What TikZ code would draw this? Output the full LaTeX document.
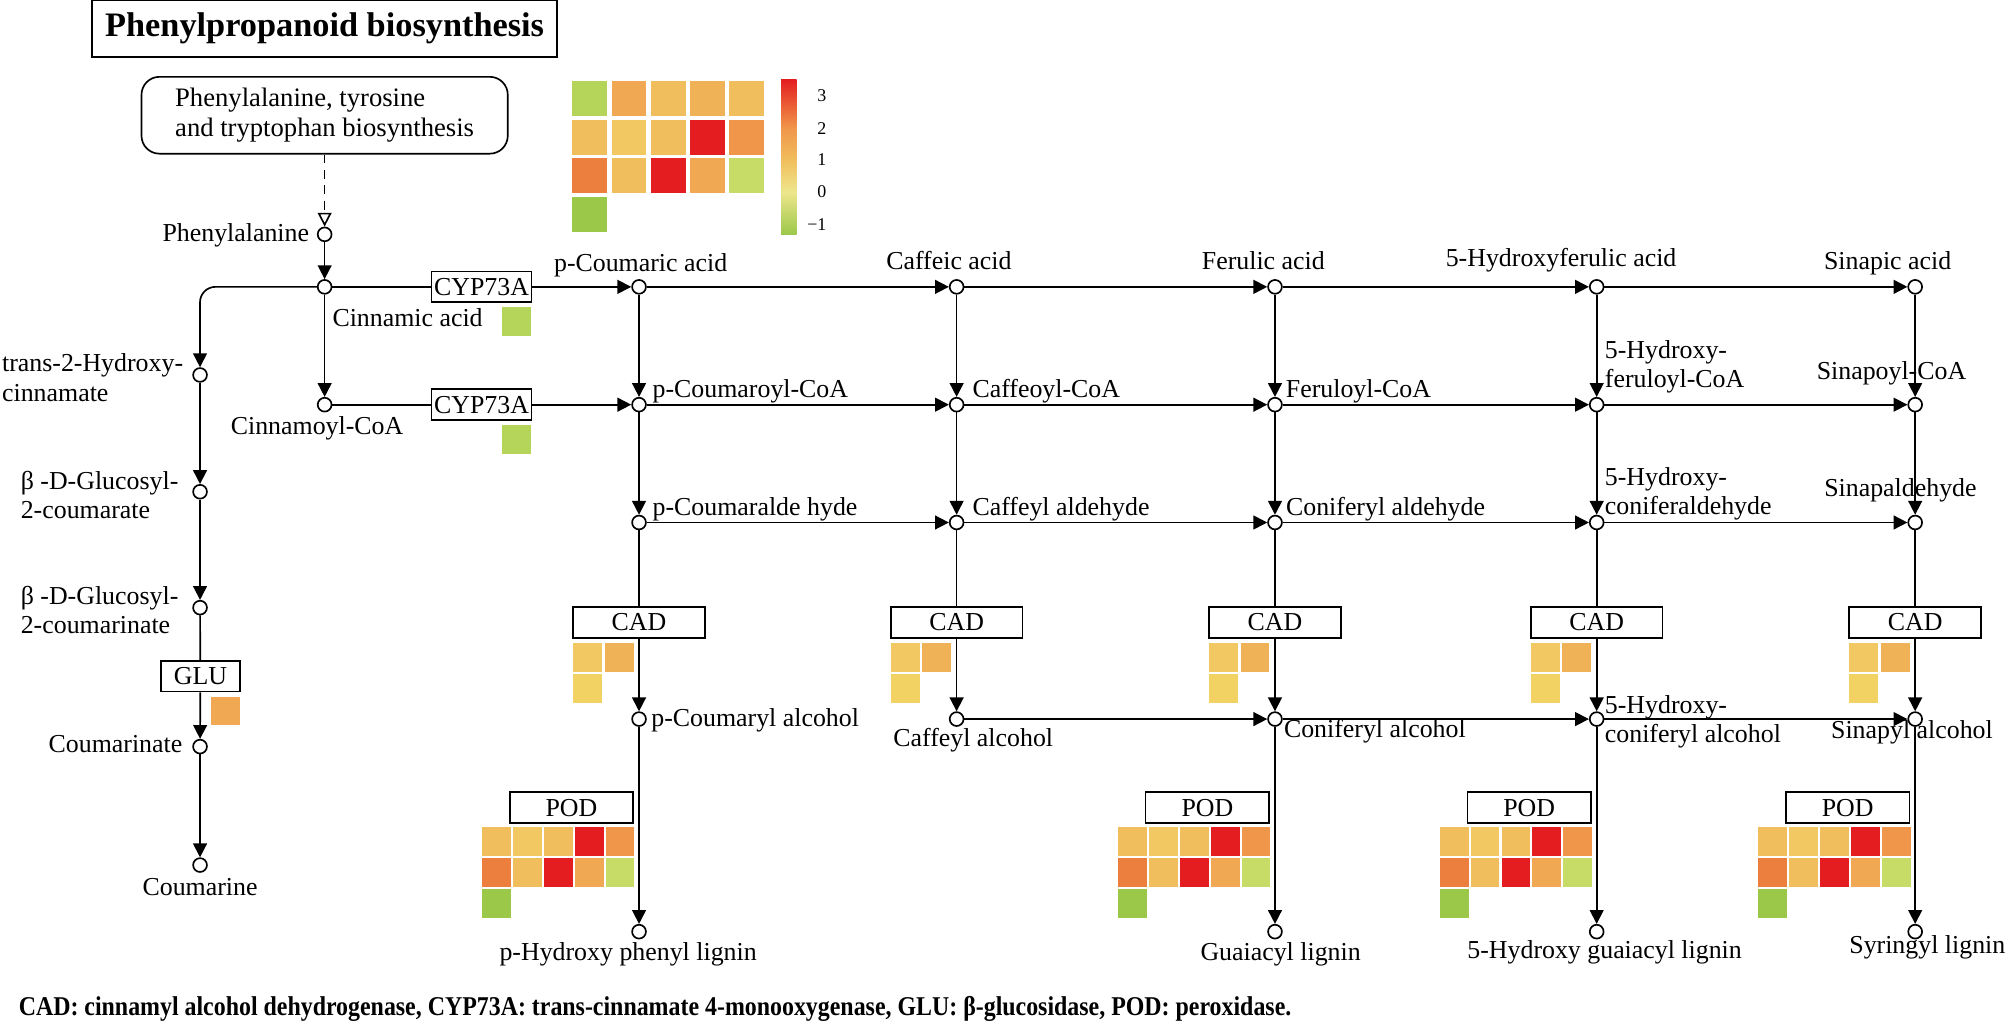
\documentclass[tikz,border=0pt]{standalone}
\usepackage{fontspec}
\setmainfont{Liberation Serif}
\usetikzlibrary{arrows.meta}
\definecolor{hmR}{HTML}{E41E20}
\definecolor{hmOa}{HTML}{EC7E3E}
\definecolor{hmOb}{HTML}{F0964A}
\definecolor{hmOc}{HTML}{F0A852}
\definecolor{hmOd}{HTML}{F0B256}
\definecolor{hmYa}{HTML}{F0BE5C}
\definecolor{hmYb}{HTML}{F2C862}
\definecolor{hmYc}{HTML}{F2D263}
\definecolor{hmYd}{HTML}{EEE68C}
\definecolor{hmGa}{HTML}{C6DC66}
\definecolor{hmGb}{HTML}{B5D45A}
\definecolor{hmGc}{HTML}{9CC84A}

\begin{document}
\begin{tikzpicture}[x=0.5pt,y=-0.5pt,line width=0.65pt,
                    every node/.append style={font=\fontsize{10.1}{11.5}\selectfont},
                    met/.style={circle,draw,fill=white,minimum size=5.4pt,inner sep=0pt},
                    enz/.style={draw,minimum height=12pt,inner sep=0pt},
                    lbl/.style={inner sep=0pt,text height=6.8pt,text depth=1.6pt},
                    lbltwo/.style={inner sep=0pt,align=left,anchor=west},
                    arr/.style={-{Triangle[length=5.4pt,width=5.4pt]}}
]
\useasboundingbox (0,0) rectangle (1568,803.5);

\node[draw,minimum width=181.5pt,minimum height=21.9pt,font=\fontsize{13.4}{15}\selectfont\bfseries] (title) at (253.5,22.4) {Phenylpropanoid biosynthesis};
\node[draw,rounded corners=7pt,minimum width=143pt,minimum height=30pt,align=left,font=\fontsize{10.4}{11.7}\selectfont] (aab) at (253.5,90) {Phenylalanine, tyrosine\\and tryptophan biosynthesis};

% legend heatmap and colour bar
\foreach \row [count=\j from 0] in {{hmGb,hmOc,hmYa,hmOd,hmYa},{hmYa,hmYb,hmYa,hmR,hmOb},{hmOa,hmYa,hmR,hmOc,hmGa},{hmGc}}
  \foreach \col [count=\i from 0] in \row
    \fill[\col] (447+30.5*\i,63.3+30.1*\j) rectangle ++(27.3,27.3);
\shade[top color=hmR,bottom color=hmOb] (610,62) rectangle (622,100);
\shade[top color=hmOb,bottom color=hmYa] (610,100) rectangle (622,125);
\shade[top color=hmYa,bottom color=hmYd] (610,125) rectangle (622,150);
\shade[top color=hmYd,bottom color=hmGc] (610,150) rectangle (622,183);
\foreach \v/\y in {3/75,2/100,1/125,0/150,−1/175}
  \node[anchor=east,inner sep=0pt,font=\fontsize{7}{8}\selectfont] (bar\y) at (646,\y) {\v};

% entry and left branch
\node[met] (phe) at (253.5,183) {};
\node[met] (cin) at (253.5,224) {};
\node[met] (cincoa) at (253.5,316) {};
\node[enz,minimum width=39pt] (cyp1) at (376,224) {CYP73A};
\node[enz,minimum width=39pt] (cyp2) at (376,316) {CYP73A};
\fill[hmGb] (392,239.5) rectangle (415,262);
\fill[hmGb] (392,332) rectangle (415,354.5);
\node[lbl,anchor=east] (pheT) at (242,183) {Phenylalanine};
\node[lbl,anchor=west] (cinT) at (259,249.4) {Cinnamic acid};
\node[lbl] (cincoaT) at (247.6,334.4) {Cinnamoyl-CoA};
%
\node[met] (t2h) at (156.2,292.8) {};
\node[met] (glca) at (156.2,384) {};
\node[met] (glcb) at (156.2,474.5) {};
\node[enz,minimum width=31pt] (glu) at (156.5,528) {GLU};
\fill[hmOc] (164.5,544) rectangle (187.4,566);
\node[met] (coum) at (156.2,583) {};
\node[met] (coumarine) at (156.2,675.5) {};
\node[lbltwo] (t2hT) at (1,295) {trans-2-Hydroxy-\\cinnamate};
\node[lbltwo] (glcaT) at (15.6,386.4) {β -D-Glucosyl-\\2-coumarate};
\node[lbltwo] (glcbT) at (15.6,476.4) {β -D-Glucosyl-\\2-coumarinate};
\node[lbl,anchor=east] (coumT) at (143,582.5) {Coumarinate};
\node[lbl] (coumarineT) at (156.2,693.7) {Coumarine};

% grid of metabolites
\node[met] (pcou) at (499,224) {};
\node[met] (pcoucoa) at (499,316) {};
\node[met] (pcoual) at (499,408) {};
\node[met] (pcouol) at (499,561.5) {};
\node[met] (hlig) at (499,727.5) {};
\node[met] (caf) at (747,224) {};
\node[met] (cafcoa) at (747,316) {};
\node[met] (cafal) at (747,408) {};
\node[met] (cafol) at (747,561.5) {};
\node[met] (fer) at (995.6,224) {};
\node[met] (fercoa) at (995.6,316) {};
\node[met] (coal) at (995.6,408) {};
\node[met] (coniol) at (995.6,561.5) {};
\node[met] (glig) at (995.6,727.5) {};
\node[met] (hfer) at (1246.8,224) {};
\node[met] (hfercoa) at (1246.8,316) {};
\node[met] (hcoal) at (1246.8,408) {};
\node[met] (hconiol) at (1246.8,561.5) {};
\node[met] (hglig) at (1246.8,727.5) {};
\node[met] (sin) at (1495.5,224) {};
\node[met] (sincoa) at (1495.5,316) {};
\node[met] (sinal) at (1495.5,408) {};
\node[met] (sinol) at (1495.5,561.5) {};
\node[met] (slig) at (1495.5,727.5) {};
%
\node[lbl,anchor=west] (pcouT) at (432,207) {p-Coumaric acid};
\node[lbl] (cafT) at (741,205.6) {Caffeic acid};
\node[lbl] (ferT) at (986.5,205.6) {Ferulic acid};
\node[lbl] (hferT) at (1219,203) {5-Hydroxyferulic acid};
\node[lbl] (sinT) at (1474,205.6) {Sinapic acid};
\node[lbl,anchor=west] (pcoucoaT) at (509,305) {p-Coumaroyl-CoA};
\node[lbl,anchor=west] (cafcoaT) at (758.8,305) {Caffeoyl-CoA};
\node[lbl,anchor=west] (fercoaT) at (1003.5,305) {Feruloyl-CoA};
\node[lbltwo] (hfercoaT) at (1252.6,286.5) {5-Hydroxy-\\feruloyl-CoA};
\node[lbl] (sincoaT) at (1477,291.5) {Sinapoyl-CoA};
\node[lbl,anchor=west] (pcoualT) at (509,397) {p-Coumaralde hyde};
\node[lbl,anchor=west] (cafalT) at (758.8,397) {Caffeyl aldehyde};
\node[lbl,anchor=west] (coalT) at (1003.6,397) {Coniferyl aldehyde};
\node[lbltwo] (hcoalT) at (1252.6,385.8) {5-Hydroxy-\\coniferaldehyde};
\node[lbl] (sinalT) at (1484,382.6) {Sinapaldehyde};
\node[lbl,anchor=west] (pcouolT) at (508,562) {p-Coumaryl alcohol};
\node[lbl,anchor=west] (cafolT) at (697,578) {Caffeyl alcohol};
\node[lbl,anchor=west] (coniolT) at (1002,571) {Coniferyl alcohol};
\node[lbltwo] (hconiolT) at (1252.6,563.5) {5-Hydroxy-\\coniferyl alcohol};
\node[lbl] (sinolT) at (1493,571.6) {Sinapyl alcohol};
\node[lbl] (hligT) at (490.5,744.5) {p-Hydroxy phenyl lignin};
\node[lbl] (gligT) at (1000,745) {Guaiacyl lignin};
\node[lbl] (hgligT) at (1253,743) {5-Hydroxy guaiacyl lignin};
\node[lbl] (sligT) at (1505,739) {Syringyl lignin};

% CAD and POD with their heat cells
\foreach \cx/\n in {499/1,747/2,995.6/3,1246.8/4,1495.5/5}{
  \node[enz,minimum width=51.5pt] (cad\n) at (\cx,486) {CAD};
  \fill[hmYb] (\cx-51.5,502) rectangle ++(22.6,22.6);
  \fill[hmOd] (\cx-26.9,502) rectangle ++(22.6,22.6);
  \fill[hmYc] (\cx-51.5,526.5) rectangle ++(22.6,22.6);
}
\foreach \cx/\n in {499/1,995.6/3,1246.8/4,1495.5/5}{
  \node[enz,minimum width=48.25pt,minimum height=11.9pt] (pod\n) at (\cx-52.75,630.6) {POD};
  \foreach \row [count=\j from 0] in {{hmYa,hmYb,hmYa,hmR,hmOb},{hmOa,hmYa,hmR,hmOc,hmGa},{hmGc}}
    \foreach \col [count=\i from 0] in \row
      \fill[\col] (\cx-122.5+24.1*\i,646+24*\j) rectangle ++(22.5,22.5);
}

% connectors
\draw[dash pattern=on 3.5pt off 2.5pt,-{Triangle[open,length=5.4pt,width=5.4pt]}] (aab) -- (phe);
\draw[arr] (phe) -- (cin);
\draw (cin) -- (cyp1);
\draw[arr] (cyp1) -- (pcou);
\draw[arr] (cin) -- (cincoa);
\draw (cincoa) -- (cyp2);
\draw[arr] (cyp2) -- (pcoucoa);
\draw[arr,rounded corners=6pt] (cin) -| (t2h);
\draw[arr] (t2h) -- (glca);
\draw[arr] (glca) -- (glcb);
\draw (glcb) -- (glu);
\draw[arr] (glu) -- (coum);
\draw[arr] (coum) -- (coumarine);
%
\foreach \a/\b in {pcou/caf,caf/fer,fer/hfer,hfer/sin,
                   pcoucoa/cafcoa,cafcoa/fercoa,fercoa/hfercoa,hfercoa/sincoa,
                   pcoual/cafal,cafal/coal,coal/hcoal,hcoal/sinal,
                   cafol/coniol,coniol/hconiol,hconiol/sinol,
                   pcou/pcoucoa,pcoucoa/pcoual,caf/cafcoa,cafcoa/cafal,
                   fer/fercoa,fercoa/coal,hfer/hfercoa,hfercoa/hcoal,
                   sin/sincoa,sincoa/sinal,
                   cad1/pcouol,cad2/cafol,cad3/coniol,cad4/hconiol,cad5/sinol,
                   pcouol/hlig,coniol/glig,hconiol/hglig,sinol/slig}
  \draw[arr] (\a) -- (\b);
\foreach \a/\b in {pcoual/cad1,cafal/cad2,coal/cad3,hcoal/cad4,sinal/cad5}
  \draw (\a) -- (\b);

\node[anchor=west,inner sep=0pt,font=\fontsize{10.6}{12}\selectfont\bfseries] (caption) at (14,788) {\scalebox{0.88}[1]{CAD: cinnamyl alcohol dehydrogenase, CYP73A: trans-cinnamate 4-monooxygenase, GLU: β-glucosidase, POD: peroxidase.}};
\end{tikzpicture}
\end{document}
